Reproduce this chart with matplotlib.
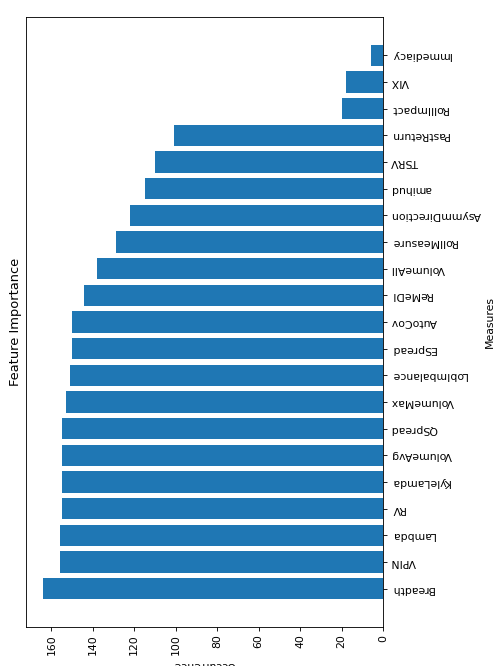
import numpy as np
import matplotlib
matplotlib.use("Agg")
import matplotlib.pyplot as plt

measures = ["Breadth", "VPIN", "Lambda", "RV", "KyleLamda", "VolumeAvg",
            "QSpread", "VolumeMax", "LobImbalance", "ESpread", "AutoCov",
            "ReMeDI", "VolumeAll", "RollMeasure", "AsymmDirection", "amihud",
            "TSRV", "PastReturn", "RollImpact", "VIX", "Immediacy"]
occurrence = [164, 156, 156, 155, 155, 155, 155, 153, 151, 150, 150,
              144, 138, 129, 122, 115, 110, 101, 20, 18, 6]

DPI = 78
fig = plt.figure(figsize=(495 / DPI, 666 / DPI), dpi=DPI)
ax = fig.add_axes([0.0525, 0.0586, 0.7213, 0.9159])

pos = np.arange(len(measures))
ax.barh(pos, occurrence, color="#1f77b4")
ax.invert_xaxis()
ax.set_xticks(np.arange(0, 161, 20))

# measure names on the right, turned upside down
ax.yaxis.tick_right()
ax.set_yticks(pos)
ax.set_yticklabels(measures, rotation=180, ha="left", va="center")
ax.yaxis.set_label_position("right")
ax.set_ylabel("Measures", rotation=90, labelpad=4)

for lbl in ax.get_xticklabels():
    lbl.set_rotation(90)
ax.set_xlabel("Occurrence", rotation=180, labelpad=4)

ax.annotate("Feature Importance", xy=(0, 0.5), xycoords="axes fraction",
            xytext=(-3.5, 0), textcoords="offset points",
            rotation=90, ha="right", va="center", fontsize=12)

fig.savefig("out.png", dpi=DPI)
